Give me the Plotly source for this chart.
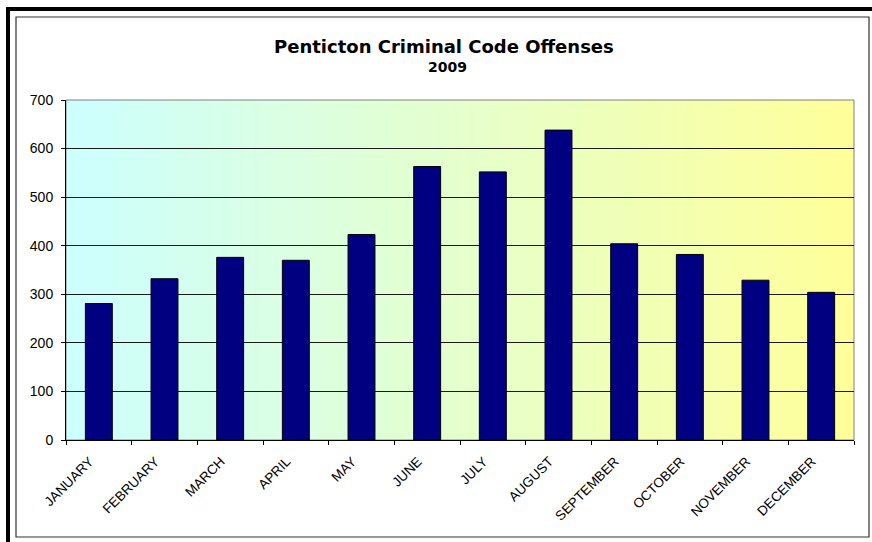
import plotly.graph_objects as go

months = ["JANUARY", "FEBRUARY", "MARCH", "APRIL", "MAY", "JUNE", "JULY",
          "AUGUST", "SEPTEMBER", "OCTOBER", "NOVEMBER", "DECEMBER"]
offenses = [281, 332, 376, 370, 423, 563, 552, 638, 404, 382, 329, 304]
y_ticks = [0, 100, 200, 300, 400, 500, 600, 700]
title_text = "Penticton Criminal Code Offenses"
subtitle_text = "2009"

W, H = 872, 542
L, R, T, B = 66, 854, 100, 440  # plot area pixel box
pw, ph = R - L, B - T


def px(x):
    return (x - L) / pw


def py(y):
    return (B - y) / ph


fig = go.Figure()
fig.add_trace(go.Bar(
    x=months, y=offenses, width=0.41,
    marker=dict(color="#000080", line=dict(color="#000000", width=1)),
    hoverinfo="x+y",
))

shapes = []
# outer thick black frame (left & top)
shapes.append(dict(type="rect", xref="paper", yref="paper",
                   x0=px(6), x1=px(10), y0=py(542), y1=py(7),
                   fillcolor="black", line=dict(width=0), layer="below"))
shapes.append(dict(type="rect", xref="paper", yref="paper",
                   x0=px(6), x1=px(872), y0=py(11), y1=py(7),
                   fillcolor="black", line=dict(width=0), layer="below"))
# inner thin frame
shapes.append(dict(type="rect", xref="paper", yref="paper",
                   x0=px(16), x1=px(869), y0=py(537), y1=py(17),
                   fillcolor="white", line=dict(color="#333333", width=1.2), layer="below"))
# gradient plot background (cyan -> yellow)
N = 160
c0 = (204, 255, 255)
c1 = (255, 255, 153)
for i in range(N):
    t = (i + 0.5) / N
    col = tuple(round(c0[k] + (c1[k] - c0[k]) * t) for k in range(3))
    shapes.append(dict(type="rect", xref="paper", yref="paper",
                       x0=i / N, x1=min(1, (i + 1.3) / N), y0=0, y1=1,
                       fillcolor="rgb(%d,%d,%d)" % col, line=dict(width=0),
                       layer="below"))
# plot area border (grey top/right)
shapes.append(dict(type="rect", xref="paper", yref="paper",
                   x0=0, x1=1, y0=0, y1=1,
                   line=dict(color="#808080", width=1), layer="below"))

annotations = [
    dict(text="<b>%s</b>" % title_text, xref="paper", yref="paper",
         x=px(444), y=py(46.5), xanchor="center", yanchor="middle",
         showarrow=False, font=dict(family="DejaVu Sans", size=18, color="black")),
    dict(text="<b>%s</b>" % subtitle_text, xref="paper", yref="paper",
         x=px(447), y=py(67.5), xanchor="center", yanchor="middle",
         showarrow=False, font=dict(family="DejaVu Sans", size=14, color="black")),
]

# label positions: slightly left of each category centre, as in the reference
label_pos = [i - 0.14 for i in range(len(months))]

fig.update_layout(
    width=W, height=H,
    margin=dict(l=L, r=W - R, t=T, b=H - B, autoexpand=False),
    paper_bgcolor="white", plot_bgcolor="rgba(0,0,0,0)",
    showlegend=False, bargap=0.59,
    shapes=shapes, annotations=annotations,
    font=dict(family="Liberation Sans, Arial", size=13, color="black"),
    xaxis=dict(type="category", tickson="boundaries", ticks="outside", ticklen=4,
               tickcolor="black", showline=True, linecolor="black", linewidth=1,
               showgrid=False, showticklabels=False,
               range=[-0.5, len(months) - 0.5]),
    xaxis2=dict(overlaying="x", anchor="y", side="bottom",
                range=[-0.5, len(months) - 0.5],
                tickvals=label_pos, ticktext=months, ticks="",
                showline=False, showgrid=False, zeroline=False,
                tickangle=-45, ticklabelstandoff=10,
                tickfont=dict(family="Liberation Sans, Arial", size=13.5, color="black")),
    yaxis=dict(range=[0, 700], tickvals=y_ticks, ticks="outside", ticklen=4,
               tickcolor="black", showline=True, linecolor="black", linewidth=1,
               showgrid=True, gridcolor="#1a1a1a", gridwidth=1, zeroline=False,
               ticklabelstandoff=5,
               tickfont=dict(family="Liberation Sans, Arial", size=14, color="black")),
)

# invisible trace so the label axis is drawn
fig.add_trace(go.Scatter(x=[label_pos[0]], y=[0], xaxis="x2", yaxis="y",
                         mode="markers", marker=dict(opacity=0),
                         hoverinfo="skip", showlegend=False))

fig.write_html("out.html")
